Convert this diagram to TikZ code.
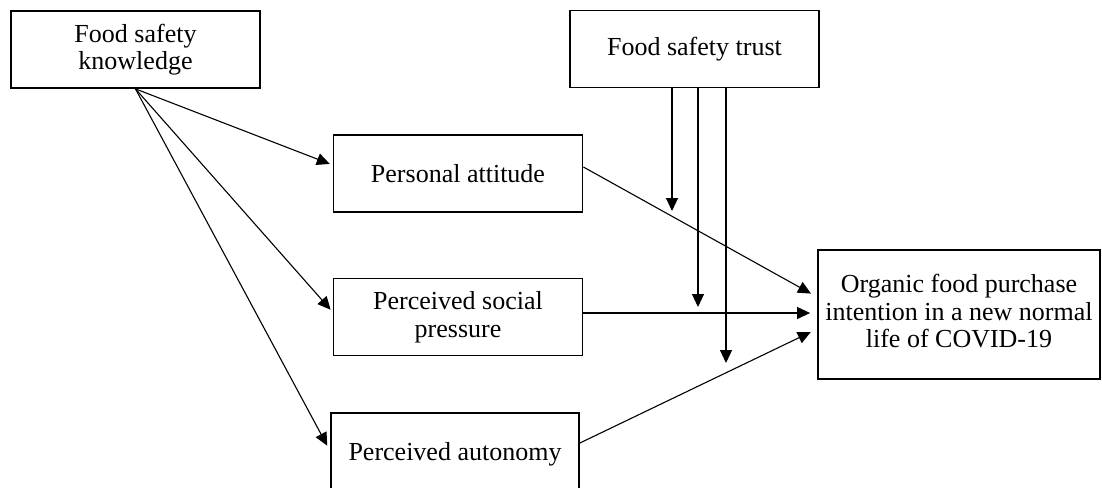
\documentclass[tikz,border=0pt]{standalone}
\usepackage{fontspec}
\setmainfont{Liberation Serif}
\usetikzlibrary{arrows.meta,positioning}

\begin{document}
\begin{tikzpicture}[
  x=1pt, y=-1pt,
  >={Triangle[length=13pt, width=12pt]},
  var/.style={draw, line width=1.8pt, minimum width=249pt, minimum height=77pt,
    inner sep=0pt, align=center, font=\fontsize{26}{27.5}\selectfont},
  link/.style={->, line width=1.1pt},
]
\useasboundingbox (0,0) rectangle (1102,487);
% nodes
\node[var] (know) at (135.5,49.5) {Food safety\\knowledge};
\node[var] (trust) at (694.5,49) {Food safety trust};
\node[var] (att) at (458,173.5) {Personal attitude};
\node[var] (soc) at (458,317) {Perceived social\\pressure};
\node[var, minimum width=248pt, minimum height=82pt] (aut) at (455,454) {Perceived autonomy};
\node[var, minimum width=282pt, minimum height=129pt] (org) at (959,314.5)
  {\raisebox{-7pt}{\begin{tabular}{@{}c@{}}Organic food purchase\\intention in a new normal\\life of COVID-19\end{tabular}}};
% where the trust arrows stop, on the three paths
\coordinate (m1) at (672,211);
\coordinate (m2) at (698,307);
\coordinate (m3) at (726,363);
% edges
\draw[link, shorten >=3pt] (know.south) -- ([yshift=8.5pt]att.west);
\draw[link, shorten >=3pt] (know.south) -- ([yshift=5pt]soc.west);
\draw[link, shorten >=6pt] (know.south) -- ([yshift=3pt]aut.west);
\draw[link, shorten >=7pt] ([yshift=6.5pt]att.east) -- ([yshift=17.5pt]org.west);
\draw[link, shorten >=7pt] ([yshift=4pt]soc.east) -- ([yshift=1.5pt]org.west);
\draw[link, shorten >=7pt] ([yshift=11pt]aut.east) -- ([yshift=-14.5pt]org.west);
% moderation by trust
\draw[link] (m1 |- trust.south) -- (m1);
\draw[link] (m2 |- trust.south) -- (m2);
\draw[link] (m3 |- trust.south) -- (m3);
\end{tikzpicture}
\end{document}
